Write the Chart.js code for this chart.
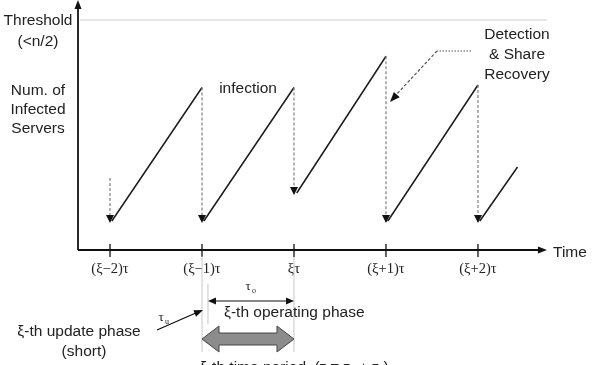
<!DOCTYPE html>
<html>
<head>
<meta charset="utf-8">
<script src="https://cdn.jsdelivr.net/npm/chart.js@4.4.0/dist/chart.umd.min.js"></script>
<style>
  html, body { margin: 0; padding: 0; background: #fff; }
  #wrap { width: 595px; height: 365px; }
</style>
</head>
<body>
<div id="wrap"><canvas id="saw"></canvas></div>
<script>
// Données du schéma (temps en unités de tau, niveau en % de l'axe)
const tickPos = [-2, -1, 0, 1, 2];
const tickLabels = ['(\u03BE\u22122)\u03C4', '(\u03BE\u22121)\u03C4', '\u03BE\u03C4', '(\u03BE+1)\u03C4', '(\u03BE+2)\u03C4'];

// montées (infection)
const riseStartX = [-1.98, -0.98, 0.03, 1.02, 2.02];
const riseStartY = [11.6, 11.6, 22.8, 11.6, 11.6];
const riseEndX = [-1, 0, 1, 2, 2.43];
const riseEndY = [65, 65, 77.5, 66, 33.2];

// chutes (détection & récupération)
const dropX = [-2, -1, 0, 1, 2];
const dropTop = [28.8, 65, 65, 77.5, 66];
const dropBottom = [11.2, 11.2, 22.4, 11.2, 11.2];

const threshold = 92;
const xMin = -2.348, xMax = 2.783;
const tauU = 0.065;

const SANS = '"Liberation Sans", Arial, sans-serif';
const SERIF = '"Liberation Serif", "Times New Roman", serif';
const INK = '#222';

function txt(ctx, s, x, y, font, align) {
    ctx.font = font;
    ctx.textAlign = align || 'center';
    ctx.textBaseline = 'middle';
    ctx.fillStyle = INK;
    ctx.fillText(s, x, y);
}

function head(ctx, x, y, ang, len, w) {
    ctx.save();
    ctx.translate(x, y);
    ctx.rotate(ang);
    ctx.beginPath();
    ctx.moveTo(0, 0);
    ctx.lineTo(-len, -w / 2);
    ctx.lineTo(-len, w / 2);
    ctx.closePath();
    ctx.fillStyle = '#111';
    ctx.fill();
    ctx.restore();
}

function line(ctx, x0, y0, x1, y1, color, width, dash) {
    ctx.save();
    ctx.beginPath();
    ctx.setLineDash(dash || []);
    ctx.strokeStyle = color;
    ctx.lineWidth = width;
    ctx.moveTo(x0, y0);
    ctx.lineTo(x1, y1);
    ctx.stroke();
    ctx.restore();
}

const datasets = [];

// seuil
datasets.push({
    data: [{ x: -2.326, y: threshold }, { x: 2.75, y: threshold }],
    borderColor: '#cfcfcf', borderWidth: 1.2, pointRadius: 0, showLine: true
});

// chutes en pointillés
dropX.forEach((x, i) => {
    datasets.push({
        data: [{ x: x, y: dropTop[i] }, { x: x, y: dropBottom[i] }],
        borderColor: '#808080', borderWidth: 1.2, borderDash: [3, 2],
        pointRadius: 0, showLine: true, isDrop: true
    });
});

// montées
riseStartX.forEach((x, i) => {
    datasets.push({
        data: [{ x: x, y: riseStartY[i] }, { x: riseEndX[i], y: riseEndY[i] }],
        borderColor: '#1a1a1a', borderWidth: 1.5, pointRadius: 0, showLine: true
    });
});

const decor = {
    id: 'decor',
    afterDatasetsDraw(chart) {
        const ctx = chart.ctx;
        const a = chart.chartArea;
        const xs = chart.scales.x, ys = chart.scales.y;
        const x0 = a.left, yb = ys.getPixelForValue(0);
        const xEnd = xs.getPixelForValue(2.75);

        // têtes de flèche des chutes
        chart.data.datasets.forEach((ds, i) => {
            if (!ds.isDrop) return;
            const pts = chart.getDatasetMeta(i).data;
            const p = pts[pts.length - 1];
            head(ctx, p.x, p.y + 1, Math.PI / 2, 8, 8);
        });

        // axes
        line(ctx, x0, yb, x0, 6, '#111', 1.8);
        head(ctx, x0, 0, -Math.PI / 2, 9, 7);
        line(ctx, x0, yb, xEnd - 6, yb, '#111', 1.8);
        head(ctx, xEnd, yb, 0, 9, 7);

        // graduations
        tickPos.forEach((t, i) => {
            const px = xs.getPixelForValue(t);
            line(ctx, px, yb - 6, px, yb + 7, '#111', 1.3);
            txt(ctx, tickLabels[i], px, yb + 19, '14.5px ' + SERIF);
        });
        txt(ctx, 'Time', 553, yb + 3, '15.5px ' + SANS, 'left');

        // libellés de l'axe vertical
        txt(ctx, 'Threshold', 38, 21, '15.5px ' + SANS);
        txt(ctx, '(<n/2)', 38, 42, '15.5px ' + SANS);
        txt(ctx, 'Num. of', 38, 91, '15.5px ' + SANS);
        txt(ctx, 'Infected', 38, 110, '15.5px ' + SANS);
        txt(ctx, 'Servers', 38, 129, '15.5px ' + SANS);
        txt(ctx, 'infection', 248, 89, '15.5px ' + SANS);

        // détection & récupération
        txt(ctx, 'Detection', 517, 35, '15.5px ' + SANS);
        txt(ctx, '& Share', 517, 55, '15.5px ' + SANS);
        txt(ctx, 'Recovery', 517, 75, '15.5px ' + SANS);
        line(ctx, 471, 51, 437, 51, '#555', 1.2, [1.5, 1.5]);
        line(ctx, 437, 51, 395, 96, '#555', 1.2, [3, 2]);
        head(ctx, 390, 102, Math.atan2(102 - 51, 390 - 437), 10, 8);

        // annotation de la période
        const pA = xs.getPixelForValue(-1);
        const pU = xs.getPixelForValue(-1 + tauU);
        const pB = xs.getPixelForValue(0);
        line(ctx, pA, yb + 6, pA, 352, '#c8c8c8', 1);
        line(ctx, pB, yb + 7, pB, 352, '#c8c8c8', 1);
        line(ctx, pU, 284, pU, 324, '#c8c8c8', 1);

        line(ctx, pU + 6, 301, pB - 6, 301, '#111', 1.2);
        head(ctx, pU, 301, Math.PI, 8, 7);
        head(ctx, pB, 301, 0, 8, 7);
        txt(ctx, '\u03C4', 248, 287, '13px ' + SERIF);
        txt(ctx, 'o', 254, 291, '8px ' + SERIF);
        txt(ctx, '\u03BE-th operating phase', 224, 313, '15.5px ' + SANS, 'left');

        line(ctx, 157, 330, pA - 4, 312, '#111', 1.3);
        head(ctx, pA + 1, 310, Math.atan2(311 - 330, pA - 157), 9, 7);
        txt(ctx, '\u03C4', 161, 318, '13px ' + SERIF);
        txt(ctx, 'u', 167, 322, '8px ' + SERIF);
        txt(ctx, '\u03BE-th update phase', 79, 332, '15.5px ' + SANS);
        txt(ctx, '(short)', 84, 352, '15.5px ' + SANS);

        // grosse double flèche grise
        const cy = 339, sh = 6, hh = 13, hl = 17;
        ctx.save();
        ctx.beginPath();
        ctx.moveTo(pA, cy);
        ctx.lineTo(pA + hl, cy - hh);
        ctx.lineTo(pA + hl, cy - sh);
        ctx.lineTo(pB - hl, cy - sh);
        ctx.lineTo(pB - hl, cy - hh);
        ctx.lineTo(pB, cy);
        ctx.lineTo(pB - hl, cy + hh);
        ctx.lineTo(pB - hl, cy + sh);
        ctx.lineTo(pA + hl, cy + sh);
        ctx.lineTo(pA + hl, cy + hh);
        ctx.closePath();
        ctx.fillStyle = '#8c8c8c';
        ctx.fill();
        ctx.strokeStyle = '#444';
        ctx.lineWidth = 1;
        ctx.stroke();
        ctx.restore();

        // dernière ligne, coupée par le bas du cadre
        ctx.font = '15.5px ' + SANS;
        ctx.textAlign = 'left';
        ctx.textBaseline = 'alphabetic';
        ctx.fillStyle = INK;
        const s1 = '\u03BE-th time period  (\u03C4 = \u03C4';
        ctx.fillText(s1, 200, 372);
        let cx = 200 + ctx.measureText(s1).width;
        ctx.font = '9px ' + SANS;
        ctx.fillText('u', cx, 375);
        cx += ctx.measureText('u').width;
        ctx.font = '15.5px ' + SANS;
        ctx.fillText(' + \u03C4', cx, 372);
        cx += ctx.measureText(' + \u03C4').width;
        ctx.font = '9px ' + SANS;
        ctx.fillText('o', cx, 375);
        cx += ctx.measureText('o').width;
        ctx.font = '15.5px ' + SANS;
        ctx.fillText(')', cx, 372);
    }
};

new Chart(document.getElementById('saw'), {
    type: 'scatter',
    data: { datasets: datasets },
    options: {
        responsive: true,
        maintainAspectRatio: false,
        animation: false,
        layout: { padding: { left: 78, right: 45, top: 0, bottom: 115 } },
        scales: {
            x: { type: 'linear', min: xMin, max: xMax, display: false },
            y: { min: 0, max: 100, display: false }
        },
        plugins: { legend: { display: false }, tooltip: { enabled: false } }
    },
    plugins: [decor]
});
</script>
</body>
</html>
